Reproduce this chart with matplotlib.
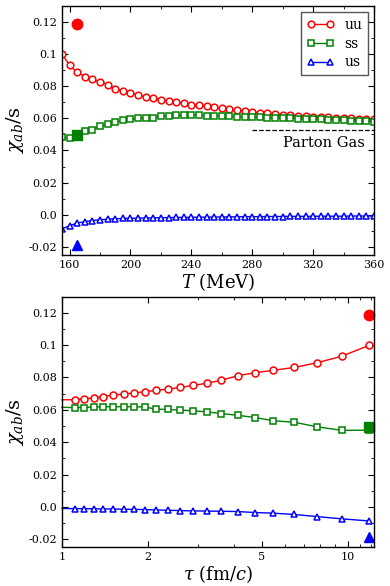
import numpy as np
import matplotlib
matplotlib.use("Agg")
import matplotlib.pyplot as plt
from matplotlib.ticker import MultipleLocator, FixedLocator, FixedFormatter, NullFormatter

plt.rcParams['font.family'] = ['DejaVu Serif']
plt.rcParams['mathtext.fontset'] = 'dejavuserif'

# ---------------- data: top panel (vs T) ----------------
T = list(range(155, 361, 5))
uu_T = [0.100, 0.093, 0.0886, 0.086, 0.0842, 0.0828, 0.081, 0.0785, 0.077, 0.0756,
        0.0745, 0.0735, 0.0725, 0.0717, 0.0708, 0.0701, 0.0693, 0.0686, 0.068, 0.0674,
        0.0668, 0.0662, 0.0657, 0.0651, 0.0645, 0.064, 0.0635, 0.0631, 0.0627, 0.0623,
        0.062, 0.0617, 0.0614, 0.0611, 0.0608, 0.0606, 0.0603, 0.0601, 0.0599, 0.0597,
        0.0595, 0.0593]
ss_T = [0.0481, 0.0478, 0.050, 0.0522, 0.053, 0.0551, 0.0563, 0.0576, 0.0588, 0.0594,
        0.060, 0.0603, 0.0605, 0.0613, 0.0616, 0.0618, 0.0619, 0.0619, 0.0618, 0.0617,
        0.0616, 0.0615, 0.0613, 0.0611, 0.061, 0.0608, 0.0606, 0.0604, 0.0603, 0.0601,
        0.060, 0.0598, 0.0597, 0.0595, 0.0593, 0.0591, 0.0589, 0.0587, 0.0585, 0.0583,
        0.0581, 0.0579]
us_T = [-0.0087, -0.0068, -0.0052, -0.0043, -0.0036, -0.0031, -0.0028, -0.0025, -0.0023, -0.0022,
        -0.0021, -0.0020, -0.0019, -0.0018, -0.0018, -0.0017, -0.0016, -0.0016, -0.0015, -0.0015,
        -0.0014, -0.0014, -0.0013, -0.0013, -0.0012, -0.0012, -0.0012, -0.0011, -0.0011, -0.0011,
        -0.0010, -0.0010, -0.0010, -0.0010, -0.0009, -0.0009, -0.0009, -0.0009, -0.0008, -0.0008,
        -0.0008, -0.0008]

# filled reference points
T_ref = 165
ref_vals = [0.1185, 0.0495, -0.0186]   # uu, ss, us

# parton gas limit
pg_T = [280, 360]
pg_val = 0.0526

# ---------------- data: bottom panel (vs tau) ----------------
tau = [1.0, 1.113, 1.196, 1.290, 1.390, 1.511, 1.643, 1.784, 1.950, 2.135, 2.340, 2.589,
       2.875, 3.210, 3.593, 4.119, 4.734, 5.489, 6.500, 7.775, 9.506, 11.88]
uu_tau = [0.0662, 0.0662, 0.0668, 0.0674, 0.0682, 0.0691, 0.0697, 0.0704, 0.0712, 0.0720, 0.0728,
          0.0738, 0.0751, 0.0764, 0.0782, 0.0811, 0.0829, 0.0844, 0.0862, 0.0890, 0.0931, 0.0999]
ss_tau = [0.0615, 0.0614, 0.0614, 0.0617, 0.0619, 0.0619, 0.0619, 0.0619, 0.0617, 0.0604, 0.0602,
          0.0598, 0.0594, 0.0587, 0.0577, 0.0566, 0.0552, 0.0532, 0.0523, 0.0495, 0.0473, 0.0474]
us_tau = [-0.0010, -0.0011, -0.0011, -0.0012, -0.0013, -0.0013, -0.0015, -0.0015, -0.0017, -0.0019,
          -0.0021, -0.0023, -0.0025, -0.0026, -0.0027, -0.0029, -0.0035, -0.0039, -0.0047, -0.0060,
          -0.0074, -0.0087]
tau_ref = 11.88

labels = ['uu', 'ss', 'us']
colors = ['#ff0000', '#008000', '#0000ff']
markers = ['o', 's', '^']
ref_markers = ['o', 's', '^']

fig = plt.figure(figsize=(3.9, 5.86), dpi=100)
ax1 = fig.add_axes([0.159, 0.565, 0.800, 0.425])
ax2 = fig.add_axes([0.159, 0.066, 0.800, 0.428])

ytick_vals = [-0.02, 0.0, 0.02, 0.04, 0.06, 0.08, 0.1, 0.12]
ytick_labs = ['-0.02', '0.0', '0.02', '0.04', '0.06', '0.08', '0.1', '0.12']

def style(ax):
    ax.set_ylim(-0.025, 0.13)
    ax.yaxis.set_major_locator(FixedLocator(ytick_vals))
    ax.yaxis.set_major_formatter(FixedFormatter(ytick_labs))
    ax.yaxis.set_minor_locator(MultipleLocator(0.01))
    ax.tick_params(which='both', direction='in', top=True, right=True, labelsize=8)
    ax.tick_params(which='major', length=4, width=0.8)
    ax.tick_params(which='minor', length=2.5, width=0.6)
    for sp in ax.spines.values():
        sp.set_linewidth(1.0)
    ax.set_ylabel(r'$\chi_{ab}/\mathrm{s}$', fontsize=14, labelpad=2)

# top
top_series = [uu_T, ss_T, us_T]
for vals, lab, c, m in zip(top_series, labels, colors, markers):
    ax1.plot(T, vals, color=c, marker=m, ms=4.8, mfc='white', mec=c, mew=1.1, lw=1.0,
             label=lab, clip_on=True)
for v, c, m in zip(ref_vals, colors, ref_markers):
    ax1.plot([T_ref], [v], color=c, marker=m, ms=7.5, ls='none', clip_on=False)
ax1.plot(pg_T, [pg_val, pg_val], color='black', ls='--', lw=0.9)
ax1.text(354, 0.0446, 'Parton Gas', ha='right', va='center', fontsize=10.5)
ax1.set_xlim(155, 360)
ax1.xaxis.set_major_locator(MultipleLocator(40))
ax1.xaxis.set_minor_locator(MultipleLocator(20))
style(ax1)
ax1.set_xlabel(r'$T$ (MeV)', fontsize=13, labelpad=1)
leg = ax1.legend(loc='upper right', fontsize=10, numpoints=2, handlelength=2.0,
                 fancybox=False, framealpha=1, edgecolor='#555555',
                 borderaxespad=0.45, handletextpad=0.7, labelspacing=0.35, borderpad=0.4)
leg.get_frame().set_linewidth(1.0)

# bottom
bot_series = [uu_tau, ss_tau, us_tau]
for vals, c, m in zip(bot_series, colors, markers):
    ax2.plot(tau, vals, color=c, marker=m, ms=5.0, mfc='white', mec=c, mew=1.1, lw=1.0,
             markevery=list(range(1, len(tau))), clip_on=False)
for v, c, m in zip(ref_vals, colors, ref_markers):
    ax2.plot([tau_ref], [v], color=c, marker=m, ms=7.5, ls='none', clip_on=False)
ax2.set_xscale('log')
ax2.set_xlim(1, 12.33)
ax2.xaxis.set_major_locator(FixedLocator([1, 2, 5, 10]))
ax2.xaxis.set_major_formatter(FixedFormatter(['1', '2', '5', '10']))
ax2.xaxis.set_minor_locator(FixedLocator([3, 4, 6, 7, 8, 9, 11, 12]))
ax2.xaxis.set_minor_formatter(NullFormatter())
style(ax2)
ax2.set_xlabel(r'$\tau$ (fm/$c$)', fontsize=13, labelpad=1)

fig.savefig('out.png', dpi=100)
